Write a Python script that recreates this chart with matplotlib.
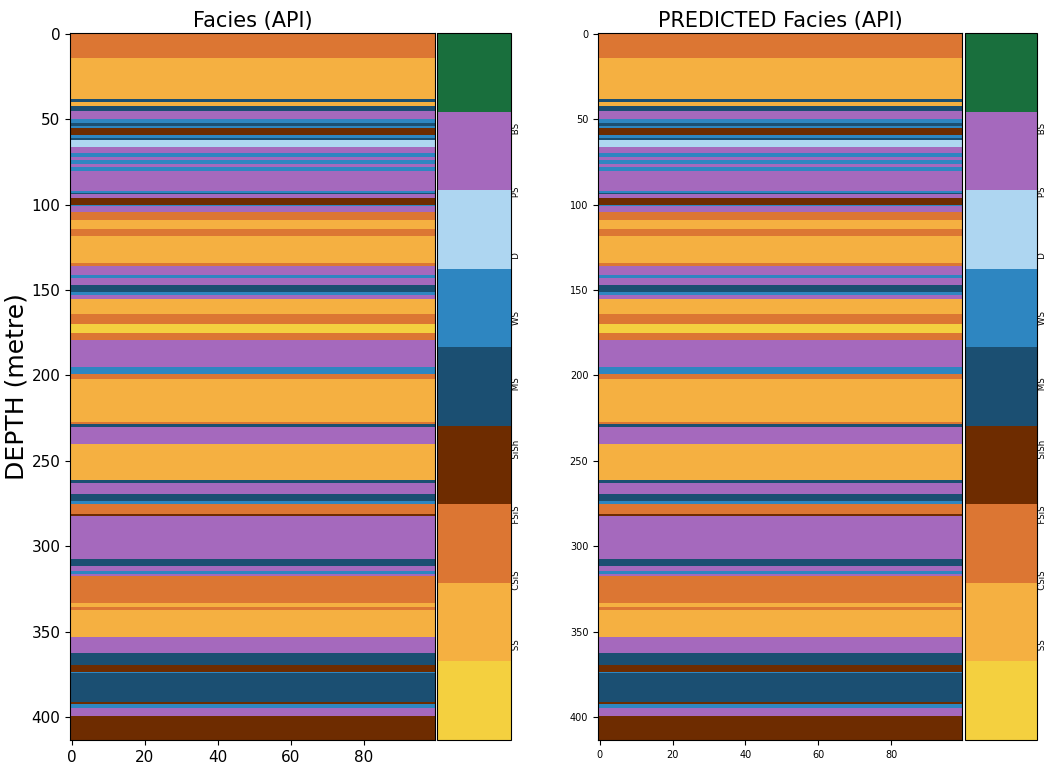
import numpy as np
import matplotlib
matplotlib.use('Agg')
import matplotlib.pyplot as plt
import matplotlib.colors as colors

# facies codes: 1=SS 2=CSiS 3=FSiS 4=SiSh 5=MS 6=WS 7=D 8=PS 9=BS
facies_colors = ['#F4D03F', '#F5B041', '#DC7633', '#6E2C00', '#1B4F72',
                 '#2E86C1', '#AED6F1', '#A569BD', '#196F3D']
facies_labels = ['SS', 'CSiS', 'FSiS', 'SiSh', 'MS', 'WS', 'D', 'PS', 'BS']

# layer tops (sample index / depth) and facies code of each layer
layer_tops = [0, 15, 39, 41, 43, 46, 51, 53, 55, 56, 60, 62, 63, 67, 71, 73,
              75, 77, 79, 81, 93, 94, 95, 97, 101, 102, 105, 110, 115, 119,
              135, 137, 142, 144, 148, 152, 154, 156, 165, 171, 176, 180,
              196, 200, 203, 228, 229, 231, 241, 262, 264, 270, 274, 276,
              282, 283, 308, 312, 315, 317, 318, 334, 336, 338, 354, 363,
              370, 374, 375, 392, 393, 395, 400]
layer_facies = [3, 2, 5, 2, 5, 8, 6, 5, 6, 4, 6, 5, 7, 8, 6, 8,
                6, 8, 6, 8, 6, 5, 8, 4, 6, 8, 3, 2, 3, 2,
                3, 8, 6, 8, 5, 6, 8, 2, 3, 1, 3, 8,
                6, 3, 2, 3, 5, 8, 2, 5, 8, 5, 6, 3,
                4, 8, 5, 8, 6, 8, 3, 2, 3, 2, 8, 5,
                4, 6, 5, 4, 6, 8, 4]
n_samples = 414

# actual and predicted facies (identical in the reference)
facies = np.repeat(layer_facies, np.diff(np.array(layer_tops + [n_samples])))
predicted = facies.copy()

cmap_facies = colors.ListedColormap(facies_colors, 'indexed')

fig = plt.figure(figsize=(10.47, 7.64), dpi=100)

panels = [
    (facies, 'Facies (API)', [0.0669, 0.0314, 0.3486, 0.9254], [0.4174, 0.0314, 0.0707, 0.9254], 11),
    (predicted, 'PREDICTED Facies (API)', [0.5712, 0.0314, 0.3477, 0.9254], [0.9217, 0.0314, 0.0690, 0.9254], 7),
]

for data, title, ax_pos, cax_pos, tick_fs in panels:
    ax = fig.add_axes(ax_pos)
    cluster = np.repeat(np.expand_dims(data, 1), 100, 1)
    im = ax.imshow(cluster, interpolation='none', aspect='auto',
                   cmap=cmap_facies, vmin=1, vmax=9)
    ax.set_title(title, fontsize=15, pad=4)
    ax.tick_params(labelsize=tick_fs)
    ax.set_xticks(np.arange(0, 100, 20))
    cax = fig.add_axes(cax_pos)
    cbar = plt.colorbar(im, cax=cax)
    cbar.set_label((17 * ' ').join([' SS ', 'CSiS', 'FSiS', 'SiSh', ' MS ',
                                    ' WS ', ' D  ', ' PS ', ' BS ']),
                   fontsize=6.2, labelpad=0.8)
    cbar.set_ticks([])
    if tick_fs == 11:
        ax.set_ylabel('DEPTH (metre)', fontsize=18, labelpad=2)

fig.savefig('out.png', dpi=100)
